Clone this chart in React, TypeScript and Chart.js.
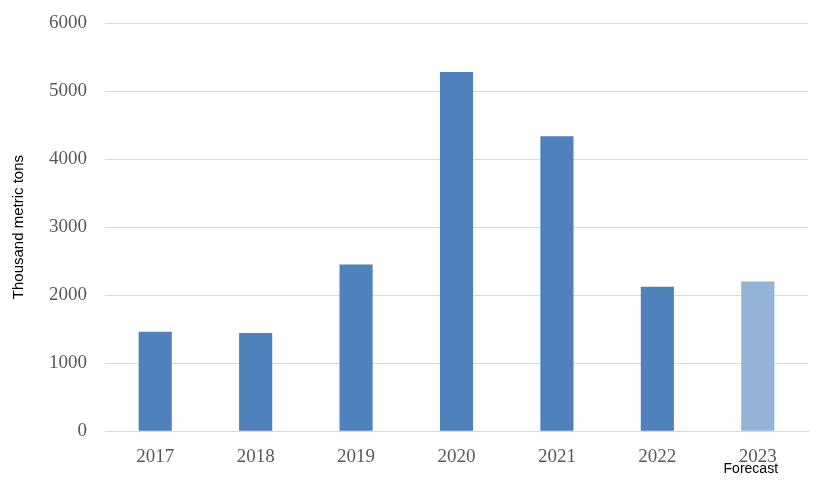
import React, { useRef, useEffect } from "react";
import Chart from "chart.js/auto";

const years = ["2017", "2018", "2019", "2020", "2021", "2022", "2023"];
const volumes = [1460, 1445, 2450, 5280, 4335, 2125, 2200];
const barColors = ["#4f81bd", "#4f81bd", "#4f81bd", "#4f81bd", "#4f81bd", "#4f81bd", "#95b3d7"];
const forecastIndex = 6;
const forecastText = "Forecast";

const serif = "'Liberation Serif', 'Times New Roman', serif";
const sans = "'Liberation Sans', Arial, sans-serif";

const forecastPlugin = {
	id: "forecastLabel",
	afterDraw(chart) {
		const x = chart.scales.x;
		const ctx = chart.ctx;
		ctx.save();
		ctx.font = "14px " + sans;
		ctx.fillStyle = "#000000";
		ctx.textAlign = "center";
		ctx.textBaseline = "middle";
		ctx.fillText(forecastText, x.getPixelForValue(forecastIndex) - 7, x.top + 38);
		ctx.restore();
	},
};

const App: React.FC = () => {
	const chartRef = useRef<HTMLCanvasElement | null>(null);
	const chartInstance = useRef<Chart | null>(null);

	useEffect(() => {
		document.body.style.margin = "0";
		if (chartInstance.current) {
			chartInstance.current.destroy();
			chartInstance.current = null;
		}
		if (chartRef.current) {
			chartInstance.current = new Chart(chartRef.current, {
				type: "bar",
				data: {
					labels: years,
					datasets: [
						{
							label: "Volume",
							data: volumes,
							backgroundColor: barColors,
							barPercentage: 0.33,
							categoryPercentage: 1,
						},
					],
				},
				options: {
					responsive: false,
					maintainAspectRatio: false,
					animation: false,
					layout: { padding: { left: 10, right: 12, top: 0, bottom: 11 } },
					scales: {
						x: {
							grid: { display: false, drawTicks: false },
							border: { color: "#d9d9d9", width: 1 },
							ticks: {
								color: "#595959",
								padding: 14,
								font: { family: serif, size: 19 },
							},
						},
						y: {
							min: 0,
							max: 6000,
							grid: { color: "#d9d9d9", drawTicks: false },
							border: { display: false },
							// tick padding also pads the top; pull the plot up
							afterFit: (scale) => {
								scale.paddingTop = 23;
							},
							ticks: {
								stepSize: 1000,
								color: "#595959",
								padding: 18,
								font: { family: serif, size: 19 },
								callback: (v) => String(v),
							},
							title: {
								display: true,
								text: "Thousand metric tons",
								color: "#000000",
								padding: { top: 0, bottom: 3 },
								font: { family: sans, size: 15 },
							},
						},
					},
					plugins: {
						legend: { display: false },
						tooltip: { enabled: false },
					},
				},
				plugins: [forecastPlugin],
			});
		}
		return () => {
			if (chartInstance.current) {
				chartInstance.current.destroy();
			}
		};
	}, []);

	return (
		<div style={{ width: 820, height: 493, background: "#ffffff" }}>
			<canvas ref={chartRef} width={820} height={493}></canvas>
		</div>
	);
};

export default App;
